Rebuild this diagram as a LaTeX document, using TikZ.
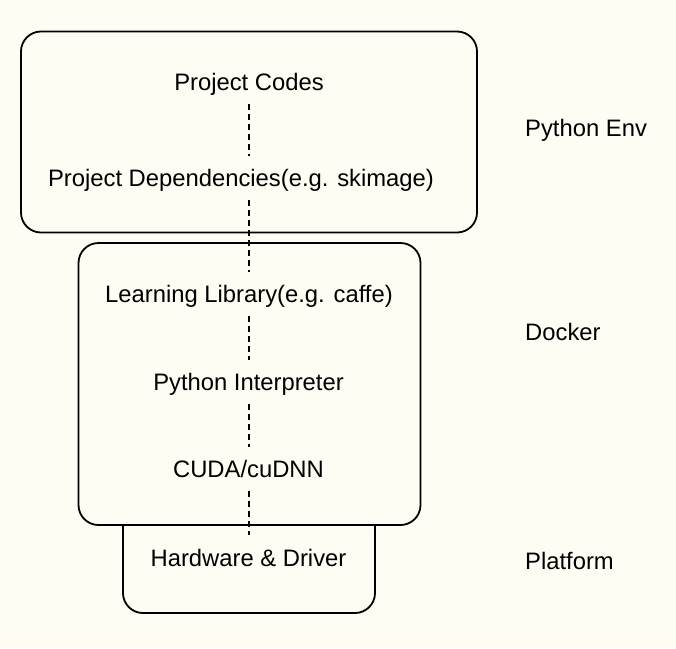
\documentclass[tikz,border=0pt]{standalone}
\usepackage{fontspec}
\setmainfont{Liberation Sans}
\usepackage{xcolor}
\definecolor{paper}{HTML}{FFFCF4}
\tikzstyle{layer} = [draw, fill=paper, rounded corners=20pt, line width=1.8pt, inner sep=0pt]
\tikzstyle{item} = [font=\fontsize{23.8}{28}\selectfont, text height=17pt, text depth=0pt, minimum height=44pt, inner sep=0pt]
\tikzstyle{tag} = [item, anchor=west]
\tikzstyle{link} = [line width=1.8pt, dash pattern=on 6pt off 4pt]

\begin{document}
\begin{tikzpicture}[x=1pt, y=-1pt]
    \fill[paper] (0,0) rectangle (676,648);
    \useasboundingbox (0,0) rectangle (676,648);
    % the three layers, lowest first
    \node[layer, minimum width=252pt, minimum height=133pt] (platform) at (249,546.5) {};
    \node[layer, minimum width=342pt, minimum height=282pt] (docker) at (249.5,384) {};
    \node[layer, minimum width=456pt, minimum height=201pt] (pyenv) at (249,132) {};
    % stack items
    \node[item] (codes) at (249,82) {Project Codes};
    \node[item] (deps) at (241,178) {Project Dependencies(e.g. skimage)};
    \node[item] (lib) at (249,294) {Learning Library(e.g. caffe)};
    \node[item] (interp) at (248.5,382) {Python Interpreter};
    \node[item] (cuda) at (248.5,469) {CUDA/cuDNN};
    \node[item] (hw) at (248.5,557.5) {Hardware \& Driver};
    % labels on the right
    \node[tag] (envtag) at (525,128) {Python Env};
    \node[tag] (dockertag) at (525,331.5) {Docker};
    \node[tag] (platformtag) at (525,561) {Platform};
    % dashed links
    \draw[link] (codes.south) -- (codes.south |- deps.north);
    \draw[link] (codes.south |- deps.south) -- (lib.north);
    \draw[link] (lib.south) -- (lib.south |- interp.north);
    \draw[link] (lib.south |- interp.south) -- (lib.south |- cuda.north);
    \draw[link] (lib.south |- cuda.south) -- (lib.south |- hw.north);
\end{tikzpicture}
\end{document}
